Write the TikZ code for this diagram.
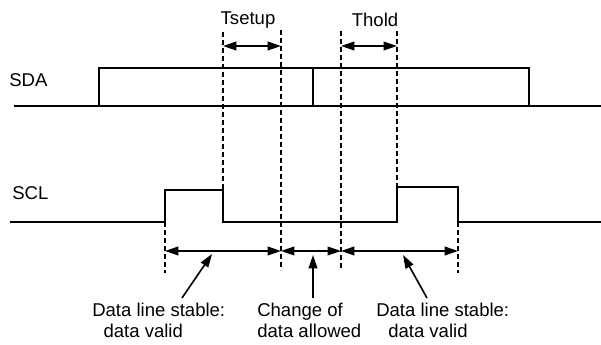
\documentclass[tikz,border=0pt]{standalone}
\usepackage{fontspec}
\setmainfont{Liberation Sans}
\usetikzlibrary{arrows.meta}
\begin{document}
\begin{tikzpicture}[x=0.75pt,y=-0.75pt,
  sig/.style={line width=1.3pt, line join=miter},
  guide/.style={line width=1.3pt, dash pattern=on 3.5pt off 2.5pt},
  span/.style={line width=1.2pt, {Triangle[length=10pt,width=6.5pt]}-{Triangle[length=10pt,width=6.5pt]}, shorten <=0pt, shorten >=0pt},
  ptr/.style={line width=1.2pt, -{Triangle[length=10pt,width=6.5pt]}},
  lbl/.style={font=\fontsize{13.9}{15.8}\selectfont, inner sep=0pt}
]
\useasboundingbox (0,0) rectangle (601,345);

% signals
\draw[sig] (14,106) -- (601,106);
\draw[sig] (99,106) -- (99,68) -- (529,68) -- (529,106);
\draw[sig] (313,106) -- (313,68);
\draw[sig] (10,222) -- (165,222) -- (165,190) -- (223,190) -- (223,222) -- (397,222) -- (397,187) -- (458,187) -- (458,222) -- (601,222);

% signal names
\node[lbl, anchor=west] (sda) at (9,80) {SDA};
\node[lbl, anchor=west] (scl) at (12,193) {SCL};

% guide coordinates
\coordinate (g1t) at (223,32); \coordinate (g1b) at (223,190);
\coordinate (g2t) at (281,30); \coordinate (g2b) at (281,270);
\coordinate (g3t) at (341,31); \coordinate (g3b) at (341,270);
\coordinate (g4t) at (397,31); \coordinate (g4b) at (397,187);
\coordinate (g0t) at (165,222); \coordinate (g0b) at (165,273);
\coordinate (g5t) at (458,222); \coordinate (g5b) at (458,273);

\draw[guide] (g1t) -- (g1b);
\draw[guide] (g2t) -- (g2b);
\draw[guide] (g3t) -- (g3b);
\draw[guide] (g4t) -- (g4b);
\draw[guide] (g0t) -- (g0b);
\draw[guide] (g5t) -- (g5b);

% timing spans
\coordinate (s1a) at (223,46); \coordinate (s1b) at (281,46);
\coordinate (s2a) at (341,46); \coordinate (s2b) at (397,46);
\draw[span] (s1a) -- (s1b);
\draw[span] (s2a) -- (s2b);
\node[lbl] (tsetup) at (248,20) {Tsetup};
\node[lbl] (thold) at (375,20) {Thold};

\coordinate (b0) at (165,251); \coordinate (b1) at (281,251);
\coordinate (b2) at (341,251); \coordinate (b3) at (458,251);
\draw[span] (b0) -- (b1);
\draw[span] (b1) -- (b2);
\draw[span] (b2) -- (b3);

% labels
\node[lbl, anchor=north west, align=left] (lab1) at (92,303) {Data line stable:\\\hspace*{8.5pt}data valid};
\node[lbl, anchor=north west, align=left] (lab2) at (257,303) {Change of\\data allowed};
\node[lbl, anchor=north west, align=left] (lab3) at (376,303) {Data line stable:\\\hspace*{9pt}data valid};

% pointers
\coordinate (p1) at (182,298); \coordinate (q1) at (212,254);
\coordinate (p2) at (313,298); \coordinate (q2) at (313,255);
\coordinate (p3) at (427,298); \coordinate (q3) at (403,255);
\draw[ptr] (p1) -- (q1);
\draw[ptr] (p2) -- (q2);
\draw[ptr] (p3) -- (q3);
\end{tikzpicture}
\end{document}
